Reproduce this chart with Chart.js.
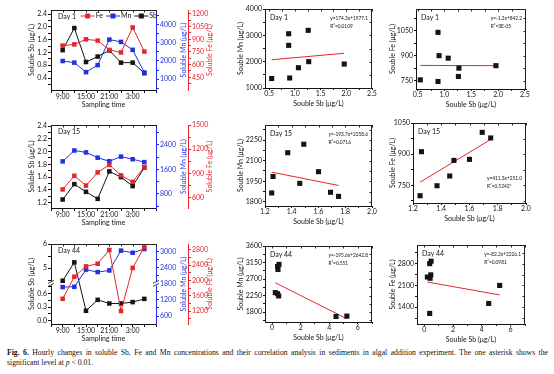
<!DOCTYPE html>
<html lang="en">
<head>
<meta charset="UTF-8">
<title>Fig. 6 - Soluble Sb, Fe and Mn</title>
<script src="https://cdn.jsdelivr.net/npm/chart.js@4.4.0/dist/chart.umd.min.js"></script>
<style>
  body { margin: 0; background: #fff; width: 554px; height: 374px; position: relative; overflow: hidden; }
  canvas { position: absolute; }
  .cap { position: absolute; left: 7px; width: 541px; font-family: 'Liberation Serif', serif; font-size: 7.7px; line-height: 9px; color: #111; white-space: nowrap; }
  .cap.l1 { top: 348px; text-align: justify; text-align-last: justify; }
  .cap.l2 { top: 358px; }
</style>
</head>
<body>
<div class="cap l1"><b>Fig. 6.</b> Hourly changes in soluble Sb, Fe and Mn concentrations and their correlation analysis in sediments in algal addition experiment. The one asterisk shows the</div>
<div class="cap l2">significant level at <i>p</i> &lt; 0.01.</div>

<script>
// sampling hours (9:00 day 1 ... 6:00 next morning)
const hours = [9, 12, 15, 18, 21, 24, 27, 30];
const days = ['Day 1', 'Day 15', 'Day 44'];

const sbDay1 = [1.27, 1.96, 0.90, 1.07, 1.26, 0.88, 0.88, 0.55];
const mnDay1 = [2000, 1910, 1380, 1770, 3190, 3060, 2620, 1360];
const feDay1 = [825, 840, 900, 885, 775, 745, 1040, 755];

const sbDay15 = [1.25, 1.49, 1.37, 1.26, 1.69, 1.60, 1.46, 1.75];
const mnDay15 = [1865, 2220, 2158, 1985, 1870, 2020, 1935, 1840];
const feDay15 = [700, 870, 748, 912, 1005, 875, 795, 978];

const sbDay44 = [4.48, 5.24, 0.22, 0.46, 0.38, 0.38, 0.41, 0.48];
const mnDay44 = [1680, 1690, 2330, 2240, 2300, 3040, 2960, 3100];
const feDay44 = [1520, 2100, 2370, 2440, 2800, 1200, 2330, 2880];

// linear fits [slope, intercept] and the printed equations
const mnFit = [[174.3, 1977.1], [-193.7, 2258.6], [-195.6, 2642.8]];
const feFit = [[-1.2, 842.2], [411.3, 251.0], [-82.2, 2226.1]];
const mnEq = ['y=174.3x+1977.1', 'y=-193.7x+2258.6', 'y=-195.6x+2642.8'];
const mnR2 = ['R\u00b2=0.0109', 'R\u00b2=0.0716', 'R\u00b2=0.551'];
const feEq = ['y=-1.2x+842.2', 'y=411.3x+251.0', 'y=-82.2x+2226.1'];
const feR2 = ['R\u00b2=3E-05', 'R\u00b2=0.5242*', 'R\u00b2=0.0981'];

// broken Sb axis on day 44
const sbBreak = { lo: 0.82, hi: 4.37, ratio: 0.53 };

const RED = '#e5262b', BLUE = '#2231dd', BLACK = '#141414';

Chart.defaults.font.family = 'Lato, "Open Sans", sans-serif';
Chart.defaults.font.size = 7;
Chart.defaults.color = BLACK;

const range = (a, b, s) => { const out = []; for (let v = a; v <= b + s * 1e-6; v += s) out.push(+v.toFixed(6)); return out; };
const isMult = (v, m) => Math.abs(v / m - Math.round(v / m)) < 1e-6;
const every = (m, dec) => v => isMult(v, m) ? v.toFixed(dec) : '';
const virt = v => v <= sbBreak.lo ? v : (v >= sbBreak.hi ? sbBreak.lo + (v - sbBreak.hi) * sbBreak.ratio : sbBreak.lo);

class BrokenScale extends Chart.LinearScale {
  getPixelForValue(v) { return super.getPixelForValue(virt(v)); }
}
BrokenScale.id = 'broken';
BrokenScale.defaults = {};

// frame top (and right) with inward mirror ticks
const frame = {
  id: 'frame',
  beforeDatasetsDraw(chart, args, o) {
    const { ctx, chartArea: a, scales } = chart;
    ctx.save();
    ctx.strokeStyle = '#222';
    ctx.lineWidth = 1;
    ctx.beginPath();
    const top = Math.round(a.top) + 0.5;
    ctx.moveTo(a.left, top); ctx.lineTo(a.right, top);
    scales.x.ticks.forEach(t => {
      const x = Math.round(scales.x.getPixelForValue(t.value)) + 0.5;
      ctx.moveTo(x, a.top); ctx.lineTo(x, a.top + 2.5);
    });
    if (o.right) {
      const r = Math.round(a.right) - 0.5;
      ctx.moveTo(r, a.top); ctx.lineTo(r, a.bottom);
      scales.y.ticks.forEach(t => {
        const y = Math.round(scales.y.getPixelForValue(t.value)) + 0.5;
        ctx.moveTo(a.right, y); ctx.lineTo(a.right - 2.5, y);
      });
    }
    ctx.stroke();
    ctx.restore();
  }
};

function legendIcon(ctx, color, x, y) {
  ctx.fillStyle = color;
  ctx.fillRect(x, y - 0.5, 14, 1);
  ctx.fillRect(x + 4.5, y - 2.5, 5, 5);
}

// day label, legend, fit equation, axis break, right-hand titles
const notes = {
  id: 'notes',
  afterDraw(chart, args, o) {
    const { ctx, chartArea: a } = chart;
    ctx.save();
    ctx.fillStyle = BLACK;
    ctx.textBaseline = 'middle';
    ctx.font = '7px Lato';
    if (o.day) ctx.fillText(o.day, a.left + o.dx, a.top + o.dy);
    if (o.legend) {
      const sets = chart.data.datasets;
      const total = sets.reduce((s, ds) => s + 15 + ctx.measureText(ds.label).width + 3, -3);
      let x = a.right + 1 - total;
      const y = a.top + 6;
      sets.forEach(ds => {
        legendIcon(ctx, ds.borderColor, x, y);
        x += 15;
        ctx.fillStyle = BLACK;
        ctx.fillText(ds.label, x, y);
        x += ctx.measureText(ds.label).width + 3;
      });
    }
    if (o.eq) {
      ctx.fillStyle = BLACK;
      ctx.font = '4.8px Lato';
      const x = a.right - 4 - ctx.measureText(o.eq[0]).width;
      const y = o.low ? a.bottom - 25 : a.top + 9;
      ctx.fillText(o.eq[0], x, y);
      ctx.fillText(o.eq[1], x, y + 8);
    }
    if (o.brk) {
      const y = chart.scales.y.getPixelForValue(sbBreak.lo);
      [a.left, a.right].forEach(x => {
        ctx.fillStyle = '#fff';
        ctx.fillRect(x - 3, y - 2, 6, 4);
        ctx.strokeStyle = BLACK;
        ctx.lineWidth = 0.8;
        ctx.beginPath();
        ctx.moveTo(x - 3, y); ctx.lineTo(x + 3, y - 3);
        ctx.moveTo(x - 3, y + 3); ctx.lineTo(x + 3, y);
        ctx.stroke();
      });
    }
    Object.values(chart.scales).forEach(s => {
      if (s.options.position !== 'right') return;
      ctx.save();
      ctx.font = '7px Lato';
      ctx.fillStyle = s.options.ticks.color;
      ctx.textAlign = 'center';
      ctx.translate(s.right - 4.2, (s.top + s.bottom) / 2);
      ctx.rotate(-Math.PI / 2);
      ctx.fillText(s.options.title.text, 0, 0);
      ctx.restore();
    });
    ctx.restore();
  }
};

Chart.register(BrokenScale, frame, notes);

function axis(o) {
  const color = o.color || BLACK;
  return {
    type: o.type || 'linear', position: o.pos, min: o.min, max: o.max, bounds: 'data',
    border: { color, width: 1 },
    grid: { drawOnChartArea: false, tickLength: o.tl || 3, color, lineWidth: 1 },
    ticks: { color, padding: o.pad || 0, autoSkip: false, maxRotation: 0, minRotation: 0, callback: o.label },
    title: { display: o.pos !== 'right', text: o.title, color, padding: 0 },
    afterBuildTicks: s => { s.ticks = o.ticks.map(v => ({ value: v })); },
    afterFit: s => { if (s.isHorizontal()) s.height = o.size; else s.width = o.size; }
  };
}

function makeCanvas(x, y, w, h) {
  const c = document.createElement('canvas');
  c.width = w; c.height = h;
  c.style.left = x + 'px'; c.style.top = y + 'px';
  c.style.width = w + 'px'; c.style.height = h + 'px';
  document.body.appendChild(c);
  return c;
}

const hourLabel = v => (v >= 9 && v <= 27 && isMult(v - 9, 6)) ? (v % 24) + ':00' : '';

function timeChart(box, padTop, d) {
  const series = (label, vals, color, id) => ({
    label, data: hours.map((h, i) => ({ x: h, y: vals[i] })), yAxisID: id,
    borderColor: color, backgroundColor: color, borderWidth: 1, tension: 0,
    pointStyle: 'rect', pointRadius: 3.2, pointBorderWidth: 0, pointBackgroundColor: color
  });
  new Chart(makeCanvas(...box), {
    type: 'line',
    data: { datasets: [series('Fe', d.fe, RED, 'fe'), series('Mn', d.mn, BLUE, 'mn'), series('Sb', d.sb, BLACK, 'y')] },
    options: {
      animation: false, responsive: false, events: [],
      layout: { padding: { top: padTop }, autoPadding: false },
      plugins: {
        tooltip: { enabled: false },
        legend: { display: false },
        frame: { right: false },
        notes: { day: d.day, dx: 7, dy: 7, brk: d.brk, legend: d.legend }
      },
      scales: {
        x: axis({ pos: 'bottom', min: 6, max: 33, ticks: range(6, 33, 3), label: hourLabel, title: 'Sampling time', size: 19 }),
        y: axis({ ...d.sbAxis, pos: 'left', title: 'Soluble Sb (\u03bcg/L)', size: 23, pad: 1 }),
        mn: axis({ ...d.mnAxis, pos: 'right', color: BLUE, title: 'Soluble Mn (\u03bcg/L)', size: 32, pad: 1 }),
        fe: axis({ ...d.feAxis, pos: 'right', color: RED, title: 'Soluble Fe (\u03bcg/L)', size: 26, pad: 1 })
      }
    }
  });
}

function scatterChart(box, padTop, padRight, yWidth, day, sb, vals, fit, eq, low, xAxis, yAxis, yTitle) {
  const lo = Math.min(...sb), hi = Math.max(...sb);
  new Chart(makeCanvas(...box), {
    type: 'scatter',
    data: {
      datasets: [
        { data: sb.map((x, i) => ({ x, y: vals[i] })), pointStyle: 'rect', pointRadius: 3.6,
          pointBorderWidth: 0, pointBackgroundColor: BLACK, backgroundColor: BLACK },
        { data: [lo, hi].map(x => ({ x, y: fit[0] * x + fit[1] })), showLine: true,
          borderColor: RED, borderWidth: 1, pointRadius: 0 }
      ]
    },
    options: {
      animation: false, responsive: false, events: [],
      layout: { padding: { top: padTop, right: padRight }, autoPadding: false },
      plugins: {
        tooltip: { enabled: false }, legend: { display: false },
        frame: { right: true },
        notes: { day, dx: 5, dy: 9, eq, low }
      },
      scales: {
        x: axis({ ...xAxis, pos: 'bottom', title: 'Souble Sb (\u03bcg/L)', size: 20, tl: 2 }),
        y: axis({ ...yAxis, pos: 'left', title: yTitle, size: yWidth, tl: 2, pad: 1 })
      }
    }
  });
}

// time courses
timeChart([28, 0, 186, 109], 10, {
  day: days[0], legend: true, sb: sbDay1, mn: mnDay1, fe: feDay1,
  sbAxis: { min: 0.025, max: 2.525, ticks: range(0.2, 2.4, 0.2), label: every(0.4, 1) },
  mnAxis: { min: 389, max: 4833, ticks: range(500, 4500, 500), label: every(1000, 0) },
  feAxis: { min: 300, max: 1247, ticks: range(375, 1200, 75), label: every(150, 0) }
});
timeChart([28, 115, 186, 112], 10, {
  day: days[1], sb: sbDay15, mn: mnDay15, fe: feDay15,
  sbAxis: { min: 1.117, max: 2.416, ticks: range(1.2, 2.4, 0.1), label: every(0.2, 1) },
  mnAxis: { min: 342, max: 3053, ticks: range(400, 2800, 400), label: every(800, 0) },
  feAxis: { min: 470, max: 1500, ticks: range(600, 1500, 150), label: every(300, 0) }
});
timeChart([28, 236, 186, 107], 8, {
  day: days[2], sb: sbDay44, mn: mnDay44, fe: feDay44, brk: true,
  sbAxis: { type: 'broken', min: -0.07, max: virt(6), ticks: [0, 0.15, 0.3, 0.45, 0.6, 0.75, 4.5, 5, 5.5, 6],
            label: v => v < 1 ? (isMult(v, 0.3) ? v.toFixed(1) : '') : (isMult(v, 1) ? v.toFixed(0) : '') },
  mnAxis: { min: 302, max: 3287, ticks: range(600, 3000, 300), label: every(600, 0) },
  feAxis: { min: 860, max: 2957, ticks: range(1000, 2800, 200), label: every(400, 0) }
});

// Mn vs Sb
const xSmall = { min: 0.42, max: 2.5, ticks: range(0.5, 2.5, 0.25), label: every(0.5, 1) };
const xMid = { min: 1.2, max: 2.0, ticks: range(1.2, 2.0, 0.1), label: every(0.2, 1) };
const xWide = { min: -0.5, max: 7, ticks: range(0, 7, 1), label: every(2, 0) };
const mnTitle = 'Souble Mn (\u03bcg/L)', feTitle = 'Souble Fe (\u03bcg/L)';

scatterChart([237, 0, 142, 108], 9, 7, 28, days[0], sbDay1, mnDay1, mnFit[0], [mnEq[0], mnR2[0]], false,
  xSmall, { min: 1000, max: 4000, ticks: range(1000, 4000, 500), label: every(1000, 0) }, mnTitle);
scatterChart([237, 118, 142, 108], 7, 7, 28, days[1], sbDay15, mnDay15, mnFit[1], [mnEq[1], mnR2[1]], false,
  xMid, { min: 1770, max: 2360, ticks: range(1800, 2325, 75), label: every(150, 0) }, mnTitle);
scatterChart([237, 240, 142, 102], 6, 7, 28, days[2], sbDay44, mnDay44, mnFit[2], [mnEq[2], mnR2[2]], false,
  xWide, { min: 1530, max: 3600, ticks: range(1575, 3600, 225), label: every(450, 0) }, mnTitle);

// Fe vs Sb
scatterChart([389, 0, 145, 109], 9, 8, 27, days[0], sbDay1, feDay1, feFit[0], [feEq[0], feR2[0]], false,
  { ...xSmall, min: 0.47, max: 2.52 }, { min: 700, max: 1180, ticks: range(750, 1125, 75), label: every(150, 0) }, feTitle);
scatterChart([389, 116, 145, 107], 7, 8, 24, days[1], sbDay15, feDay15, feFit[1], [feEq[1], feR2[1]], true,
  xMid, { min: 665, max: 1050, ticks: range(675, 1050, 75), label: every(150, 0) }, feTitle);
scatterChart([389, 239, 145, 105], 6, 9, 28, days[2], sbDay44, feDay44, feFit[2], [feEq[2], feR2[2]], false,
  xWide, { min: 860, max: 3400, ticks: range(1050, 3150, 350), label: every(700, 0) }, feTitle);
</script>
</body>
</html>
